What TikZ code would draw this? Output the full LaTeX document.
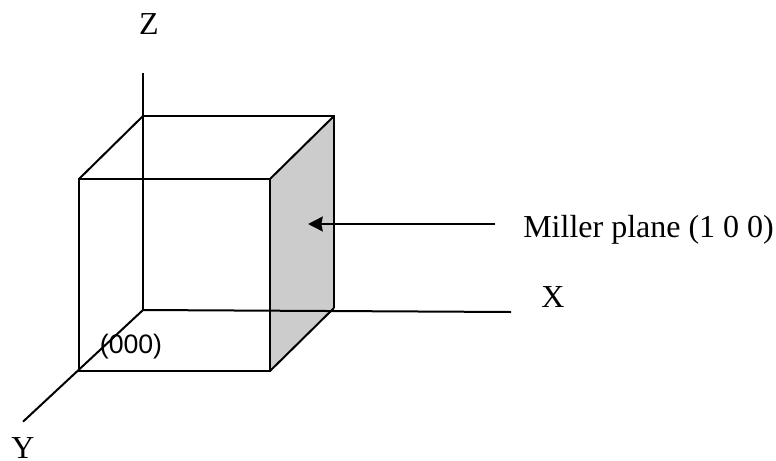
\documentclass[tikz,border=0pt]{standalone}
\usepackage{fontspec}
\setmainfont{Liberation Serif}
\newfontfamily\arialfont{Liberation Sans}
\usetikzlibrary{arrows.meta}
\tikzset{
  px/.style={x=0.75pt,y=-0.75pt},
  edge/.style={draw=black,line width=1.5pt},
  lbl/.style={inner sep=0pt,text=black,font=\fontsize{24}{28}\selectfont},
  small/.style={inner sep=0pt,text=black,font=\arialfont\fontsize{20}{23}\selectfont}
}
\begin{document}
\begin{tikzpicture}[px]
\useasboundingbox (0,0) rectangle (776,461);
\coordinate (a) at (79,179);
\coordinate (b) at (270,179);
\coordinate (c) at (270,371);
\coordinate (d) at (79,371);
\coordinate (e) at (143,116);
\coordinate (f) at (334,116);
\coordinate (g) at (334,308);
\coordinate (h) at (143,310);
\coordinate (ztop) at (143,73);
\coordinate (xend) at (511,312);
\coordinate (yend) at (23,421.7);
\coordinate (arrs) at (495,224);
\coordinate (arre) at (308,224);
\fill[black!20] (b) -- (f) -- (g) -- (c) -- cycle;
\draw[edge] (a) -- (b) -- (c) -- (d) -- cycle;
\draw[edge] (e) -- (f) -- (g);
\draw[edge] (a) -- (e);
\draw[edge] (b) -- (f);
\draw[edge] (c) -- (g);
\draw[edge] (ztop) -- (h);
\draw[edge] (h) -- (xend);
\draw[edge] (h) -- (yend);
\draw[edge,line width=1.9pt,-{Stealth[length=11pt,width=11pt,inset=1pt]}] (arrs) -- (arre);
\node[lbl] (zl) at (149,24) {Z};
\node[lbl] (xl) at (553,297) {X};
\node[lbl] (yl) at (23,448.5) {Y};
\node[lbl,anchor=west] (ml) at (523,230) {Miller plane (1 0 0)};
\node[small] (ol) at (131,347) {(000)};
\end{tikzpicture}
\end{document}
